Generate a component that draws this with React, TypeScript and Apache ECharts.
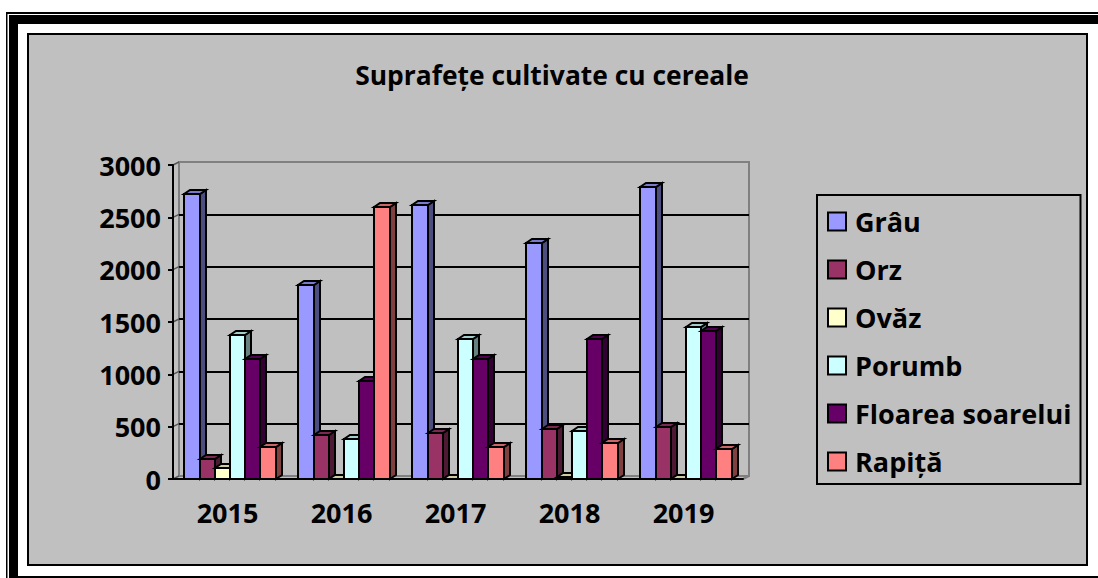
import React, { useEffect, useRef } from "react";
import * as echarts from "echarts";

const years = ["2015", "2016", "2017", "2018", "2019"];
const yTicks = [0, 500, 1000, 1500, 2000, 2500, 3000];
const grau = [2720, 1855, 2620, 2255, 2790];
const orz = [190, 420, 435, 477, 495];
const ovaz = [108, 0, 0, 20, 0];
const porumb = [1375, 382, 1335, 455, 1450];
const floarea = [1145, 939, 1145, 1335, 1412];
const rapita = [305, 2600, 305, 342, 285];

const seriesDefs = [
  { name: "Grâu", values: grau, front: "#9999FF", side: "#4D4D80", top: "#7A7ACC" },
  { name: "Orz", values: orz, front: "#993366", side: "#4D1933", top: "#7A2952" },
  { name: "Ovăz", values: ovaz, front: "#FFFFCC", side: "#808066", top: "#CCCCA3" },
  { name: "Porumb", values: porumb, front: "#CCFFFF", side: "#668080", top: "#A3CCCC" },
  { name: "Floarea soarelui", values: floarea, front: "#660066", side: "#330033", top: "#520052" },
  { name: "Rapiță", values: rapita, front: "#FF8080", side: "#804040", top: "#CC6666" },
];

const FONT = "'Open Sans', 'Noto Sans', sans-serif";
const DX = 6;
const DY = 4;

function bar3d(index: number, def: (typeof seriesDefs)[number]) {
  return (_: any, api: any) => {
    const v = api.value(1);
    const c = api.coord([api.value(0), v]);
    const base = api.coord([api.value(0), 0]);
    const band = api.size([1, 0])[0];
    const w = (band * 0.8) / seriesDefs.length;
    const x0 = Math.round(c[0] - band * 0.4 + index * w);
    const x1 = Math.round(c[0] - band * 0.4 + (index + 1) * w);
    const y0 = Math.round(c[1]);
    const y1 = Math.round(base[1]);
    const line = { stroke: "#000", lineWidth: 2, lineJoin: "miter" };
    return {
      type: "group",
      children: [
        {
          type: "polygon",
          shape: { points: [[x1, y0], [x1 + DX, y0 - DY], [x1 + DX, y1 - DY], [x1, y1]] },
          style: { fill: def.side, ...line },
        },
        {
          type: "polygon",
          shape: { points: [[x0, y0], [x0 + DX, y0 - DY], [x1 + DX, y0 - DY], [x1, y0]] },
          style: { fill: def.top, ...line },
        },
        {
          type: "rect",
          shape: { x: x0, y: y0, width: x1 - x0, height: y1 - y0 },
          style: { fill: def.front, ...line },
        },
      ],
    };
  };
}

function wallTick(_: any, api: any) {
  const c = api.coord([0, api.value(0)]);
  const band = api.size([1, 0])[0];
  const x = c[0] - band / 2;
  return {
    type: "line",
    shape: { x1: x, y1: c[1], x2: x + DX, y2: c[1] - 3 },
    style: { stroke: "#555", lineWidth: 1.5 },
  };
}

function floorEdge(_: any, api: any) {
  const c = api.coord([years.length - 1, 0]);
  const band = api.size([1, 0])[0];
  const x = c[0] + band / 2;
  return {
    type: "line",
    shape: { x1: x, y1: c[1], x2: x + DX, y2: c[1] - 3 },
    style: { stroke: "#808080", lineWidth: 2 },
  };
}

export default function App() {
  const ref = useRef<HTMLDivElement>(null);
  useEffect(() => {
    const chart = echarts.init(ref.current!, null, { renderer: "svg" });
    const rect = (x: number, y: number, width: number, height: number, style: any, z = 0) => ({
      type: "rect",
      z,
      shape: { x, y, width, height },
      style,
    });
    chart.setOption({
      animation: false,
      backgroundColor: "#fff",
      title: {
        text: "Suprafețe cultivate cu cereale",
        left: 547,
        top: 57,
        textAlign: "center",
        textStyle: { fontFamily: FONT, fontWeight: "bold", fontSize: 26.4, color: "#000" },
      },
      legend: {
        orient: "vertical",
        left: 817,
        top: 195,
        padding: [13, 9, 9, 10],
        borderColor: "#000",
        borderWidth: 2,
        itemWidth: 18,
        itemHeight: 18,
        itemGap: 21,
        icon: "rect",
        data: seriesDefs.map((d) => d.name),
        textStyle: { fontFamily: FONT, fontWeight: "bold", fontSize: 27, color: "#000", padding: [0, 0, 0, 4] },
      },
      grid: [
        { left: 179, top: 162, width: 570, height: 314, show: true, borderColor: "#808080", borderWidth: 2, backgroundColor: "transparent" },
        { left: 173, top: 165, width: 570, height: 314 },
      ],
      xAxis: [
        { gridIndex: 0, type: "category", data: years, axisLine: { show: false }, axisTick: { show: false }, axisLabel: { show: false } },
        {
          gridIndex: 1,
          type: "category",
          data: years,
          z: 10,
          axisLine: { lineStyle: { color: "#000", width: 2 } },
          axisTick: { length: 5, alignWithLabel: false, lineStyle: { color: "#000", width: 2 } },
          axisLabel: { fontFamily: FONT, fontWeight: "bold", fontSize: 27, color: "#000", margin: 20, padding: [0, 5, 0, 0] },
        },
      ],
      yAxis: [
        {
          gridIndex: 0,
          type: "value",
          min: 0,
          max: 3000,
          interval: 500,
          axisLine: { show: false },
          axisTick: { show: false },
          axisLabel: { show: false },
          splitLine: { show: true, showMinLine: false, showMaxLine: false, lineStyle: { color: "#000", width: 2 } },
        },
        {
          gridIndex: 1,
          type: "value",
          min: 0,
          max: 3000,
          interval: 500,
          z: 10,
          axisLine: { show: true, lineStyle: { color: "#000", width: 2 } },
          axisTick: { show: true, length: 5, lineStyle: { color: "#000", width: 2 } },
          axisLabel: { fontFamily: FONT, fontWeight: "bold", fontSize: 27, color: "#000", margin: 12, formatter: (v: number) => String(v) },
          splitLine: { show: false },
        },
      ],
      graphic: [
        rect(6, 12, 1092, 566, { fill: "#000" }, -10),
        rect(7.5, 14, 1090.5, 564, { fill: "#fff" }, -9),
        rect(9, 15, 1089, 563, { fill: "#000" }, -8),
        rect(18, 24, 1080, 552, { fill: "#fff" }, -7),
        rect(28, 34, 1059, 531, { fill: "#C0C0C0", stroke: "#000", lineWidth: 2 }, -6),
      ],
      series: [
        {
          name: "wall",
          type: "custom",
          xAxisIndex: 1,
          yAxisIndex: 1,
          clip: false,
          silent: true,
          data: yTicks.map((t) => [t]),
          encode: { y: 0 },
          renderItem: wallTick,
          z: 1,
        },
        {
          name: "floor",
          type: "custom",
          xAxisIndex: 1,
          yAxisIndex: 1,
          clip: false,
          silent: true,
          data: [[0]],
          encode: { y: 0 },
          renderItem: floorEdge,
          z: 1,
        },
        ...seriesDefs.map((d, i) => ({
          name: d.name,
          type: "custom",
          xAxisIndex: 1,
          yAxisIndex: 1,
          clip: false,
          z: 2,
          itemStyle: { color: d.front, borderColor: "#000", borderWidth: 2 },
          encode: { x: 0, y: 1 },
          data: d.values.map((v, k) => [k, v]),
          renderItem: bar3d(i, d),
        })),
      ],
    });
    return () => chart.dispose();
  }, []);
  return <div ref={ref} style={{ position: "absolute", left: 0, top: 0, width: 1098, height: 578 }} />;
}
